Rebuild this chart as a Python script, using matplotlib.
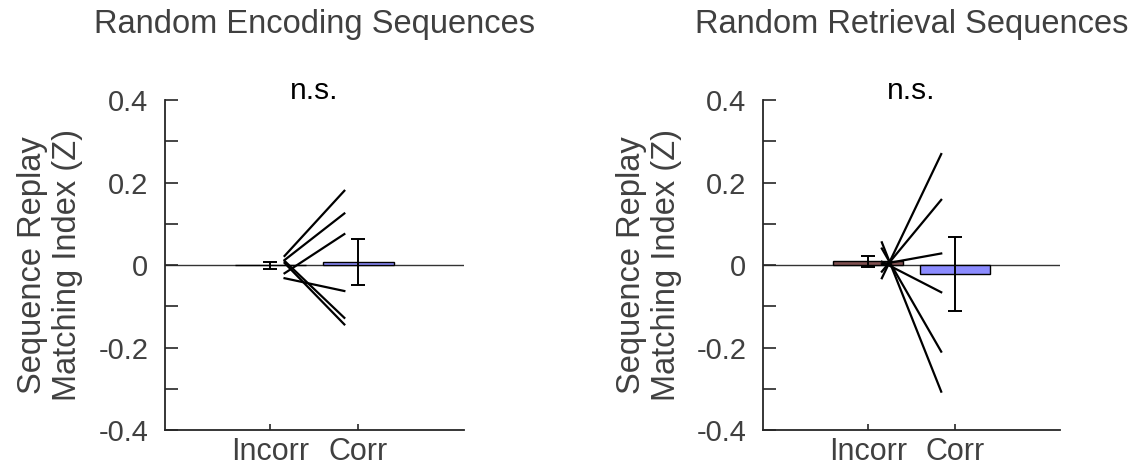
import numpy as np
import matplotlib.pyplot as plt

plt.rcParams['font.family'] = ['Liberation Sans', 'DejaVu Sans']

# per-subject values, Incorr -> Corr
enc_incorr = [0.022, 0.012, -0.020, -0.032, 0.010, 0.005]
enc_corr = [0.180, 0.125, 0.075, -0.063, -0.128, -0.144]
ret_incorr = [-0.032, -0.016, 0.002, 0.008, 0.040, 0.055]
ret_corr = [0.269, 0.158, 0.028, -0.066, -0.210, -0.307]

titles = ['Random Encoding Sequences', 'Random Retrieval Sequences']
conditions = ['Incorr', 'Corr']
ytick_vals = [-0.4, -0.3, -0.2, -0.1, 0, 0.1, 0.2, 0.3, 0.4]
ytick_labels = ['-0.4', '', '-0.2', '', '0', '', '0.2', '', '0.4']

bar_colors = ['#805050', '#8c8cff']
grey = '#404040'

fig = plt.figure(figsize=(11.36, 4.67), dpi=100)
axes = [fig.add_axes([0.1452, 0.0792, 0.2632, 0.7066]),
        fig.add_axes([0.6717, 0.0792, 0.2614, 0.7066])]

data = [(enc_incorr, enc_corr), (ret_incorr, ret_corr)]

for ax, (inc, cor), title in zip(axes, data, titles):
    inc = np.array(inc)
    cor = np.array(cor)
    means = [inc.mean(), cor.mean()]
    sems = [inc.std(ddof=1) / np.sqrt(len(inc)), cor.std(ddof=1) / np.sqrt(len(cor))]

    ax.axhline(0, color='#333333', lw=1, zorder=1)
    ax.bar([1, 2], means, width=0.8, color=bar_colors, edgecolor='black', lw=1, zorder=2)
    ax.errorbar([1, 2], means, yerr=sems, fmt='none', ecolor='black', elinewidth=1.4,
                capsize=5, capthick=1.4, zorder=3)
    for a, b in zip(inc, cor):
        ax.plot([1.16, 1.84], [a, b], color='black', lw=1.6, zorder=4)

    ax.set_xlim(-0.2, 3.2)
    ax.set_ylim(-0.4, 0.4)
    ax.set_xticks([1, 2])
    ax.set_xticklabels(conditions)
    ax.set_yticks(ytick_vals)
    ax.set_yticklabels(ytick_labels)

    for s in ['top', 'right']:
        ax.spines[s].set_visible(False)
    for s in ['left', 'bottom']:
        ax.spines[s].set_color('#262626')
        ax.spines[s].set_linewidth(1.3)
    ax.tick_params(axis='y', direction='in', length=9, width=1.2, color='#262626',
                   labelsize=21, labelcolor=grey, pad=12)
    ax.tick_params(axis='x', direction='in', length=4, width=1.2, color='#262626',
                   labelsize=22, labelcolor=grey, pad=5)

    ax.text(0.5, 1.203, title, transform=ax.transAxes, ha='center', va='baseline',
            fontsize=23.5, color=grey)
    ax.text(1.5, 0.402, 'n.s.', ha='center', va='baseline', fontsize=21.5, color='black')
    ax.text(-0.385, 0.5, 'Sequence Replay\nMatching Index (Z)', transform=ax.transAxes,
            rotation=90, ha='center', va='center', multialignment='center',
            fontsize=23.5, color=grey, linespacing=1.15)

fig.savefig('out.png', dpi=100)
